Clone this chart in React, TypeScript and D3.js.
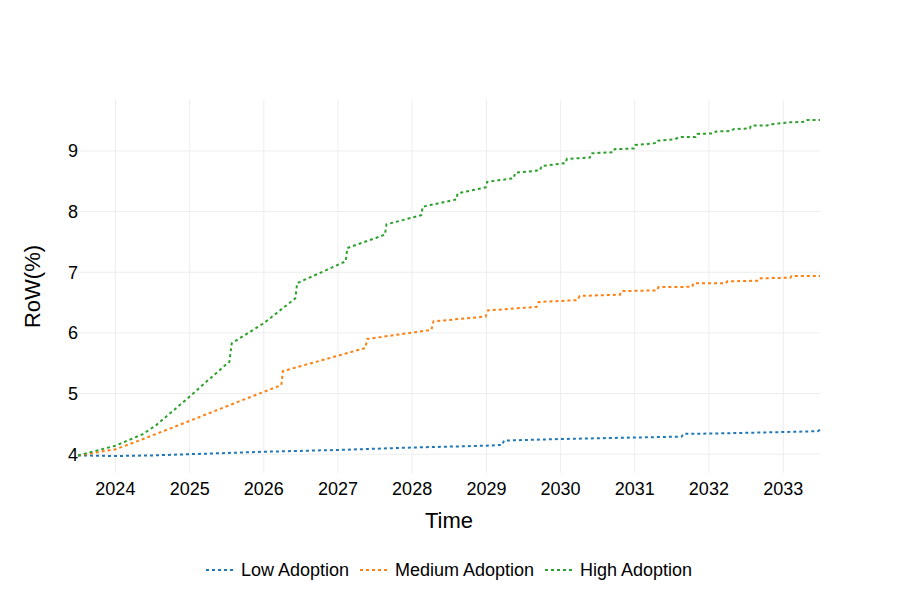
import React from "react";
import * as d3 from "d3";

type Pt = [string, number];

const lowAdoption: Pt[] = [
  ["2023-07-01", 3.98], ["2024-01-01", 3.97], ["2024-07-01", 3.98], ["2025-01-01", 4.0],
  ["2026-01-01", 4.04], ["2027-01-01", 4.07], ["2028-01-01", 4.11], ["2029-01-01", 4.14],
  ["2029-03-20", 4.155], ["2029-03-28", 4.225], ["2030-01-01", 4.25], ["2031-01-01", 4.275],
  ["2031-08-20", 4.29], ["2031-08-28", 4.335], ["2032-01-01", 4.34], ["2033-01-01", 4.365],
  ["2033-06-20", 4.38], ["2033-07-01", 4.4],
];

const mediumAdoption: Pt[] = [
  ["2023-07-01", 3.98], ["2024-01-01", 4.08], ["2024-05-01", 4.23], ["2025-01-01", 4.55],
  ["2025-09-01", 4.87], ["2026-03-28", 5.14], ["2026-04-05", 5.37], ["2027-05-15", 5.75],
  ["2027-05-25", 5.9], ["2028-04-05", 6.05], ["2028-04-15", 6.19], ["2028-12-28", 6.27],
  ["2029-01-08", 6.37], ["2029-09-05", 6.43], ["2029-09-15", 6.51], ["2030-03-25", 6.54],
  ["2030-04-05", 6.61], ["2030-10-20", 6.63], ["2030-10-28", 6.69], ["2031-04-20", 6.7],
  ["2031-04-28", 6.755], ["2031-10-10", 6.76], ["2031-10-18", 6.82], ["2032-03-25", 6.82],
  ["2032-04-01", 6.85], ["2032-09-05", 6.86], ["2032-09-12", 6.9], ["2033-02-05", 6.91],
  ["2033-02-12", 6.94], ["2033-07-01", 6.94],
];

const highAdoption: Pt[] = [
  ["2023-07-01", 3.98], ["2024-01-01", 4.14], ["2024-05-15", 4.33], ["2024-07-20", 4.48],
  ["2025-01-01", 4.95], ["2025-06-15", 5.44], ["2025-07-15", 5.52], ["2025-07-27", 5.83],
  ["2026-01-01", 6.16], ["2026-06-05", 6.57], ["2026-06-14", 6.82], ["2027-02-08", 7.18],
  ["2027-02-16", 7.4], ["2027-08-20", 7.62], ["2027-08-28", 7.79], ["2028-02-15", 7.94],
  ["2028-02-22", 8.08], ["2028-08-05", 8.2], ["2028-08-12", 8.3], ["2028-12-28", 8.4],
  ["2029-01-04", 8.49], ["2029-05-15", 8.55], ["2029-05-22", 8.64], ["2029-09-22", 8.68],
  ["2029-09-29", 8.75], ["2030-01-25", 8.8], ["2030-02-01", 8.87], ["2030-05-25", 8.89],
  ["2030-06-01", 8.96], ["2030-09-18", 8.98], ["2030-09-24", 9.03], ["2030-12-28", 9.04],
  ["2031-01-04", 9.1], ["2031-04-18", 9.13], ["2031-04-25", 9.17], ["2031-07-15", 9.19],
  ["2031-08-10", 9.23], ["2031-10-28", 9.23], ["2031-11-05", 9.28], ["2032-01-25", 9.29],
  ["2032-02-05", 9.32], ["2032-04-20", 9.33], ["2032-05-01", 9.36], ["2032-07-20", 9.37],
  ["2032-07-26", 9.42], ["2032-10-15", 9.42], ["2032-10-28", 9.44], ["2033-01-05", 9.46],
  ["2033-01-18", 9.47], ["2033-04-10", 9.48], ["2033-04-20", 9.51], ["2033-07-01", 9.51],
];

const seriesNames = ["Low Adoption", "Medium Adoption", "High Adoption"];
const seriesColors = ["#1f77b4", "#ff7f0e", "#2ca02c"];
const seriesData = [lowAdoption, mediumAdoption, highAdoption];
const xDomain = ["2023-07-01", "2033-07-01"];
const yDomain = [3.69, 9.84];
const yTicks = [4, 5, 6, 7, 8, 9];
const xTickYears = [2024, 2025, 2026, 2027, 2028, 2029, 2030, 2031, 2032, 2033];

const FONT = "'Liberation Sans', Arial, Helvetica, sans-serif";

export default function App() {
  const W = 900, H = 600;
  const left = 78, right = 820, top = 100, bottom = 473;
  const parse = d3.utcParse("%Y-%m-%d");
  const x = d3.scaleUtc().domain(xDomain.map((d) => parse(d)!)).range([left, right]);
  const y = d3.scaleLinear().domain(yDomain).range([bottom, top]);
  const line = d3
    .line<Pt>()
    .x((d) => x(parse(d[0])!))
    .y((d) => y(d[1]));

  const legendX = [206, 360, 545];

  return (
    <svg
      width={W}
      height={H}
      style={{ position: "absolute", left: 0, top: 0, background: "#fff" }}
      fontFamily={FONT}
    >
      <rect width={W} height={H} fill="#fff" />
      {xTickYears.map((yr) => {
        const xx = x(new Date(Date.UTC(yr, 0, 1)));
        return (
          <g key={yr}>
            <line x1={xx} x2={xx} y1={top} y2={bottom} stroke="#ededed" strokeWidth={1} />
            <text x={xx} y={495} textAnchor="middle" fontSize={18} fill="#000">
              {yr}
            </text>
          </g>
        );
      })}
      {yTicks.map((t) => (
        <g key={t}>
          <line x1={left} x2={right} y1={y(t)} y2={y(t)} stroke="#ededed" strokeWidth={1} />
          <text x={78} y={y(t)} dy="0.36em" textAnchor="end" fontSize={18} fill="#000">
            {t}
          </text>
        </g>
      ))}
      {seriesData.map((s, i) => (
        <path
          key={i}
          d={line(s) || ""}
          fill="none"
          stroke={seriesColors[i]}
          strokeWidth={2}
          strokeDasharray="3,3"
        />
      ))}
      <text x={(left + right) / 2} y={528} textAnchor="middle" fontSize={22} fill="#000">
        Time
      </text>
      <text
        transform={`translate(40, ${(top + bottom) / 2}) rotate(-90)`}
        textAnchor="middle"
        fontSize={22}
        fill="#000"
      >
        RoW(%)
      </text>
      {seriesNames.map((n, i) => (
        <g key={n} transform={`translate(${legendX[i]}, 570)`}>
          <line x1={0} x2={28} y1={0} y2={0} stroke={seriesColors[i]} strokeWidth={2} strokeDasharray="3,3" />
          <text x={35} y={0} dy="0.36em" fontSize={18} fill="#000">
            {n}
          </text>
        </g>
      ))}
    </svg>
  );
}
